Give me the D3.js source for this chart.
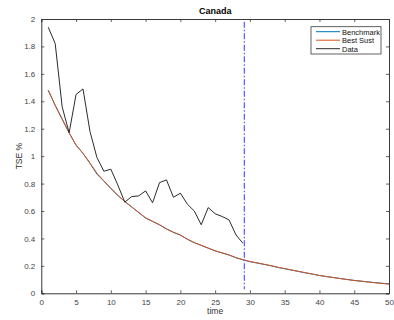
<!DOCTYPE html>
<html>
<head>
<meta charset="utf-8">
<script src="https://cdn.jsdelivr.net/npm/d3@7"></script>
<style>
  html, body { margin: 0; padding: 0; background: #fff; }
  svg { display: block; font-family: "Liberation Sans", Arial, sans-serif; }
</style>
</head>
<body>
<svg id="chart" width="394" height="320"></svg>
<script>
// Observed TSE % (periods 1..29)
const dataTime = d3.range(1, 30);
const dataValues = [1.94, 1.82, 1.36, 1.17, 1.45, 1.49, 1.18, 0.99, 0.89, 0.905,
  0.79, 0.665, 0.705, 0.71, 0.747, 0.66, 0.807, 0.827, 0.70, 0.73,
  0.65, 0.60, 0.50, 0.625, 0.58, 0.56, 0.535, 0.425, 0.365];

// Model paths (periods 1..50)
const modelTime = d3.range(1, 51);
const bestSust = [1.48, 1.37, 1.27, 1.17, 1.08, 1.02, 0.95, 0.875, 0.82, 0.765,
  0.715, 0.67, 0.63, 0.59, 0.55, 0.525, 0.50, 0.47, 0.445, 0.425,
  0.395, 0.37, 0.35, 0.33, 0.31, 0.295, 0.28, 0.26, 0.245, 0.232,
  0.222, 0.212, 0.202, 0.19, 0.18, 0.17, 0.16, 0.15, 0.14, 0.13,
  0.122, 0.115, 0.107, 0.10, 0.093, 0.088, 0.082, 0.077, 0.072, 0.067];
const benchmark = [1.48, 1.37, 1.27, 1.17, 1.08, 1.02, 0.948, 0.869, 0.818, 0.764,
  0.714, 0.669, 0.629, 0.589, 0.549, 0.524, 0.499, 0.469, 0.444, 0.424,
  0.394, 0.369, 0.349, 0.329, 0.309, 0.294, 0.279, 0.259, 0.244, 0.231,
  0.221, 0.211, 0.201, 0.189, 0.179, 0.169, 0.159, 0.149, 0.14, 0.13,
  0.122, 0.115, 0.108, 0.101, 0.094, 0.089, 0.083, 0.078, 0.073, 0.069];

const xTicks = [0, 5, 10, 15, 20, 25, 30, 35, 40, 45, 50];
const yTicks = [0, 0.2, 0.4, 0.6, 0.8, 1, 1.2, 1.4, 1.6, 1.8, 2];
const endOfSample = 29.2;

const seriesNames = ["Benchmark", "Best Sust", "Data"];
const seriesColors = ["#0072BD", "#D95319", "#2b2b2b"];

const svg = d3.select("#chart");
const margin = { left: 41.3, right: 5, top: 19, bottom: 26.7 };
const W = 394, H = 320;
const x = d3.scaleLinear().domain([0, 50]).range([margin.left, W - margin.right]);
const y = d3.scaleLinear().domain([0, 2]).range([H - margin.bottom, margin.top]);

const axisColor = "#3a3a3a";

// axes (box with inward ticks)
const xAxis = d3.axisBottom(x).tickValues(xTicks).tickSize(-3).tickPadding(6).tickFormat(d3.format("d"));
const yAxis = d3.axisLeft(y).tickValues(yTicks).tickSize(-3).tickPadding(6).tickFormat(d => d === 0 ? "0" : d3.format("~g")(d));

const gx = svg.append("g").attr("transform", `translate(0,${y(0)})`).call(xAxis);
const gy = svg.append("g").attr("transform", `translate(${x(0)},0)`).call(yAxis);
const gxTop = svg.append("g").attr("transform", `translate(0,${y(2)})`)
  .call(d3.axisTop(x).tickValues(xTicks).tickSize(-3).tickFormat(""));
const gyRight = svg.append("g").attr("transform", `translate(${x(50)},0)`)
  .call(d3.axisRight(y).tickValues(yTicks).tickSize(-3).tickFormat(""));

[gx, gy, gxTop, gyRight].forEach(g => {
  g.select(".domain").attr("stroke", axisColor).attr("stroke-width", 1);
  g.selectAll(".tick line").attr("stroke", axisColor).attr("stroke-width", 0.8);
  g.selectAll(".tick text").attr("fill", "#444").style("font-size", "8px")
    .style("font-family", '"Liberation Sans", Arial, sans-serif');
});

const line = d3.line().x(d => x(d[0])).y(d => y(d[1]));

svg.append("path")
  .datum(modelTime.map((t, i) => [t, benchmark[i]]))
  .attr("d", line).attr("fill", "none")
  .attr("stroke", seriesColors[0]).attr("stroke-width", 1);

svg.append("path")
  .datum(modelTime.map((t, i) => [t, bestSust[i]]))
  .attr("d", line).attr("fill", "none")
  .attr("stroke", seriesColors[1]).attr("stroke-width", 1);

svg.append("path")
  .datum(dataTime.map((t, i) => [t, dataValues[i]]))
  .attr("d", line).attr("fill", "none")
  .attr("stroke", seriesColors[2]).attr("stroke-width", 1);

// end-of-sample marker
svg.append("line")
  .attr("x1", x(endOfSample)).attr("x2", x(endOfSample))
  .attr("y1", y(1.98)).attr("y2", y(0.03))
  .attr("stroke", "#6262ff").attr("stroke-width", 1.3)
  .attr("stroke-dasharray", "6,2,1.5,2");

// title and labels
svg.append("text")
  .attr("x", (x(0) + x(50)) / 2).attr("y", 14)
  .attr("text-anchor", "middle").attr("font-weight", "bold")
  .attr("font-size", 9).attr("fill", "#000").text("Canada");

svg.append("text")
  .attr("x", (x(0) + x(50)) / 2).attr("y", 314)
  .attr("text-anchor", "middle").attr("font-size", 8.5).attr("fill", "#333").text("time");

svg.append("text")
  .attr("transform", `translate(22,${(y(0) + y(2)) / 2}) rotate(-90)`)
  .attr("text-anchor", "middle").attr("font-size", 8.5).attr("fill", "#333").text("TSE %");

// legend
const lg = svg.append("g");
lg.append("rect")
  .attr("x", 311).attr("y", 26.7).attr("width", 70).attr("height", 27.3)
  .attr("fill", "#fff").attr("stroke", axisColor).attr("stroke-width", 0.8);
seriesNames.forEach((name, i) => {
  const ry = 31.7 + i * 8.5;
  lg.append("line").attr("x1", 316).attr("x2", 340).attr("y1", ry).attr("y2", ry)
    .attr("stroke", seriesColors[i]).attr("stroke-width", 1);
  lg.append("text").attr("x", 342).attr("y", ry + 2.8)
    .attr("font-size", 7.5).attr("fill", "#111").text(name);
});
</script>
</body>
</html>
